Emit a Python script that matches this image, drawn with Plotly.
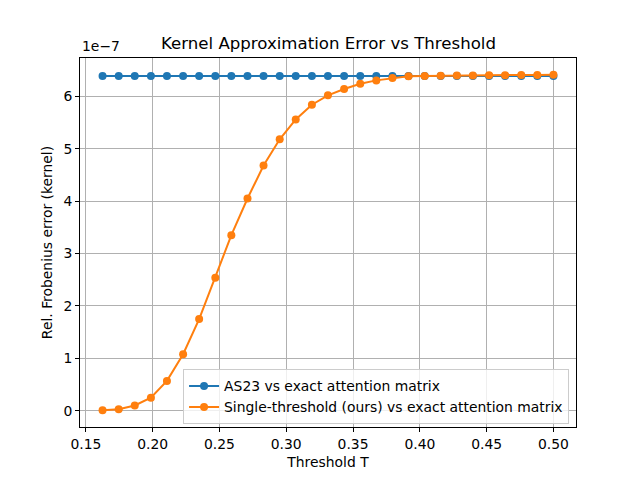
import plotly.graph_objects as go

# Data (y values in units of 1e-7)
thresholds = [0.1625, 0.1746, 0.1866, 0.1987, 0.2107, 0.2228, 0.2348, 0.2469, 0.2589,
              0.2710, 0.2830, 0.2951, 0.3071, 0.3192, 0.3312, 0.3433, 0.3554, 0.3674,
              0.3795, 0.3915, 0.4036, 0.4156, 0.4277, 0.4397, 0.4518, 0.4638, 0.4759,
              0.4879, 0.5000]
as23_err = [6.387] * 29
ours_err = [0.01, 0.03, 0.10, 0.25, 0.57, 1.08, 1.75, 2.54, 3.35,
            4.05, 4.68, 5.18, 5.56, 5.84, 6.02, 6.14, 6.24, 6.305,
            6.35, 6.385, 6.39, 6.395, 6.40, 6.40, 6.405, 6.405, 6.41,
            6.41, 6.412]
SCALE = 1e-7
y_ticks = [0, 1, 2, 3, 4, 5, 6]
x_ticks = [0.15, 0.20, 0.25, 0.30, 0.35, 0.40, 0.45, 0.50]

FONT = "DejaVu Sans"
FS = 13.9

fig = go.Figure()
fig.add_trace(go.Scatter(
    x=thresholds, y=[v * SCALE for v in as23_err], mode="lines+markers",
    name="AS23 vs exact attention matrix",
    line=dict(color="#1f77b4", width=2), marker=dict(size=8, color="#1f77b4")))
fig.add_trace(go.Scatter(
    x=thresholds, y=[v * SCALE for v in ours_err], mode="lines+markers",
    name="Single-threshold (ours) vs exact attention matrix",
    line=dict(color="#ff7f0e", width=2), marker=dict(size=8, color="#ff7f0e")))

ymin, ymax = min(ours_err), max(max(ours_err), max(as23_err))
ypad = (ymax - ymin) * 0.05
xmin, xmax = min(thresholds), max(thresholds)
xpad = (xmax - xmin) * 0.05

axis_common = dict(showline=True, linecolor="black", linewidth=1, mirror=True,
                   ticks="outside", ticklen=4, tickcolor="black", tickwidth=1,
                   showgrid=True, gridcolor="#b0b0b0", gridwidth=1, zeroline=False,
                   tickfont=dict(family=FONT, size=FS, color="black"))

fig.update_layout(
    width=640, height=480,
    margin=dict(l=72, r=72, t=50, b=61),
    paper_bgcolor="white", plot_bgcolor="white",
    font=dict(family=FONT, size=FS, color="black"),
    showlegend=True,
    legend=dict(x=0.986, y=0.007, xanchor="right", yanchor="bottom",
                bgcolor="rgba(255,255,255,0.8)", bordercolor="#cccccc", borderwidth=1,
                font=dict(family=FONT, size=FS, color="black"),
                tracegroupgap=0, itemwidth=30),
    xaxis=dict(range=[xmin - xpad, xmax + xpad], tickvals=x_ticks,
               ticktext=[f"{t:.2f}" for t in x_ticks],
               title=dict(text="Threshold T", font=dict(family=FONT, size=FS), standoff=6),
               **axis_common),
    yaxis=dict(range=[(ymin - ypad) * SCALE, (ymax + ypad) * SCALE],
               tickvals=[t * SCALE for t in y_ticks], ticktext=[str(t) for t in y_ticks],
               title=dict(text="Rel. Frobenius error (kernel)", font=dict(family=FONT, size=FS), standoff=7),
               **axis_common),
    annotations=[
        dict(text="Kernel Approximation Error vs Threshold", xref="paper", yref="paper",
             x=0.5, y=1, xanchor="center", yanchor="bottom", yshift=3, showarrow=False,
             font=dict(family=FONT, size=16.6, color="black")),
        dict(text="1e\u22127", xref="paper", yref="paper", x=0, y=1,
             xanchor="left", yanchor="bottom", yshift=2, showarrow=False,
             font=dict(family=FONT, size=FS, color="black")),
    ],
)

fig.write_html("out.html")
